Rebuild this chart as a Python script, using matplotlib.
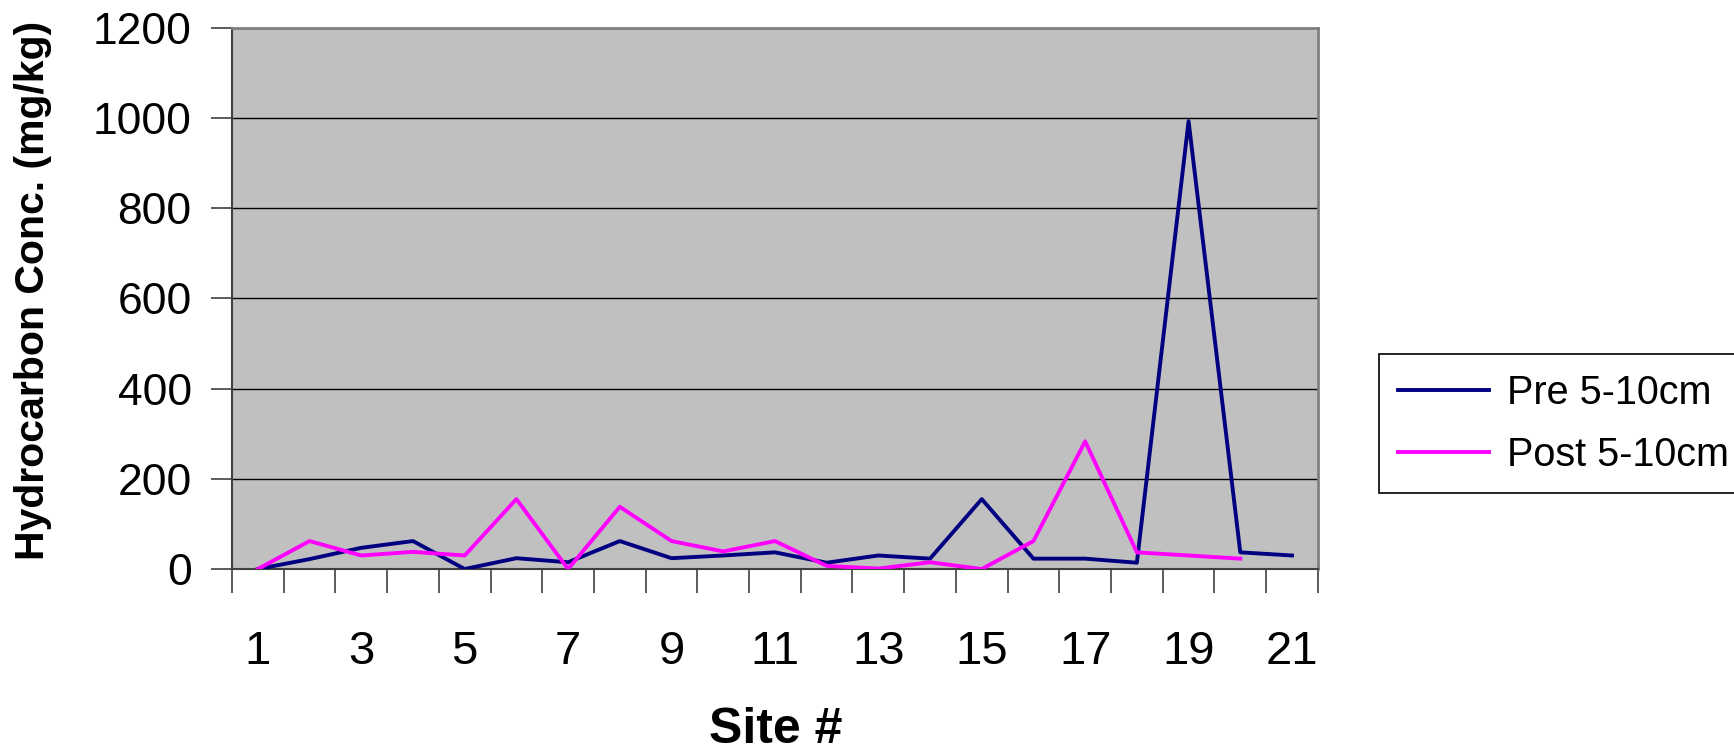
import matplotlib
matplotlib.use("Agg")
import matplotlib.pyplot as plt
import numpy as np

plt.rcParams['font.family'] = ['Liberation Sans', 'DejaVu Sans']

sites = list(range(1, 22))
pre_5_10 = [0, 22, 47, 62, 0, 24, 15, 62, 24, 30, 37, 14, 30, 23, 155, 23, 23, 14, 993, 37, 30]
post_5_10 = [0, 62, 30, 38, 30, 155, 0, 138, 62, 39, 62, 7, 1, 15, 0, 62, 283, 37, 30, 23]
label_sites = [1, 3, 5, 7, 9, 11, 13, 15, 17, 19, 21]
y_ticks = [0, 200, 400, 600, 800, 1000, 1200]

fig = plt.figure(figsize=(17.34, 7.5), dpi=100)
ax = fig.add_axes([0.1338, 0.2413, 0.760 - 0.1338, 0.963 - 0.2413])
ax.set_facecolor('#C0C0C0')

ax.plot(sites, pre_5_10, color='#000080', lw=2.8, label='Pre 5-10cm', zorder=3)
ax.plot(sites[:len(post_5_10)], post_5_10, color='#FF00FF', lw=2.8, label='Post 5-10cm', zorder=3)

ax.set_xlim(0.5, 21.5)
ax.set_ylim(0, 1200)
ax.set_yticks(y_ticks)
ax.yaxis.grid(True, color='black', lw=1.0)
ax.set_axisbelow(True)

# tick marks on category boundaries, labels on every other site
ax.set_xticks(np.arange(0.5, 22, 1.0))
ax.set_xticklabels([])
ax.set_xticks(label_sites, minor=True)
ax.set_xticklabels([str(s) for s in label_sites], minor=True)
ax.tick_params(axis='x', which='major', length=17, width=1.2, color='#404040', direction='out')
ax.tick_params(axis='x', which='minor', length=0, pad=44, labelsize=34)
ax.tick_params(axis='y', length=15, width=1.2, color='#404040', direction='out', pad=14, labelsize=32)

for side in ['top', 'right']:
    ax.spines[side].set_color('#808080')
    ax.spines[side].set_linewidth(2.0)
for side in ['left', 'bottom']:
    ax.spines[side].set_color('#404040')
    ax.spines[side].set_linewidth(1.5)

fig.text(0.4475, 0.027, 'Site #', fontsize=36, fontweight='bold', ha='center', va='center')
fig.text(0.019, 0.613, 'Hydrocarbon Conc. (mg/kg)', fontsize=29.5, fontweight='bold',
         rotation=90, ha='center', va='center')

leg = fig.legend(loc='upper left', bbox_to_anchor=(0.795, 0.528), borderaxespad=0, fontsize=28.5,
                 frameon=True, fancybox=False, edgecolor='black', framealpha=1,
                 handlelength=2.3, borderpad=0.5, labelspacing=0.6, handletextpad=0.45)
leg.get_frame().set_linewidth(1.2)

fig.savefig('out.png', dpi=100)
